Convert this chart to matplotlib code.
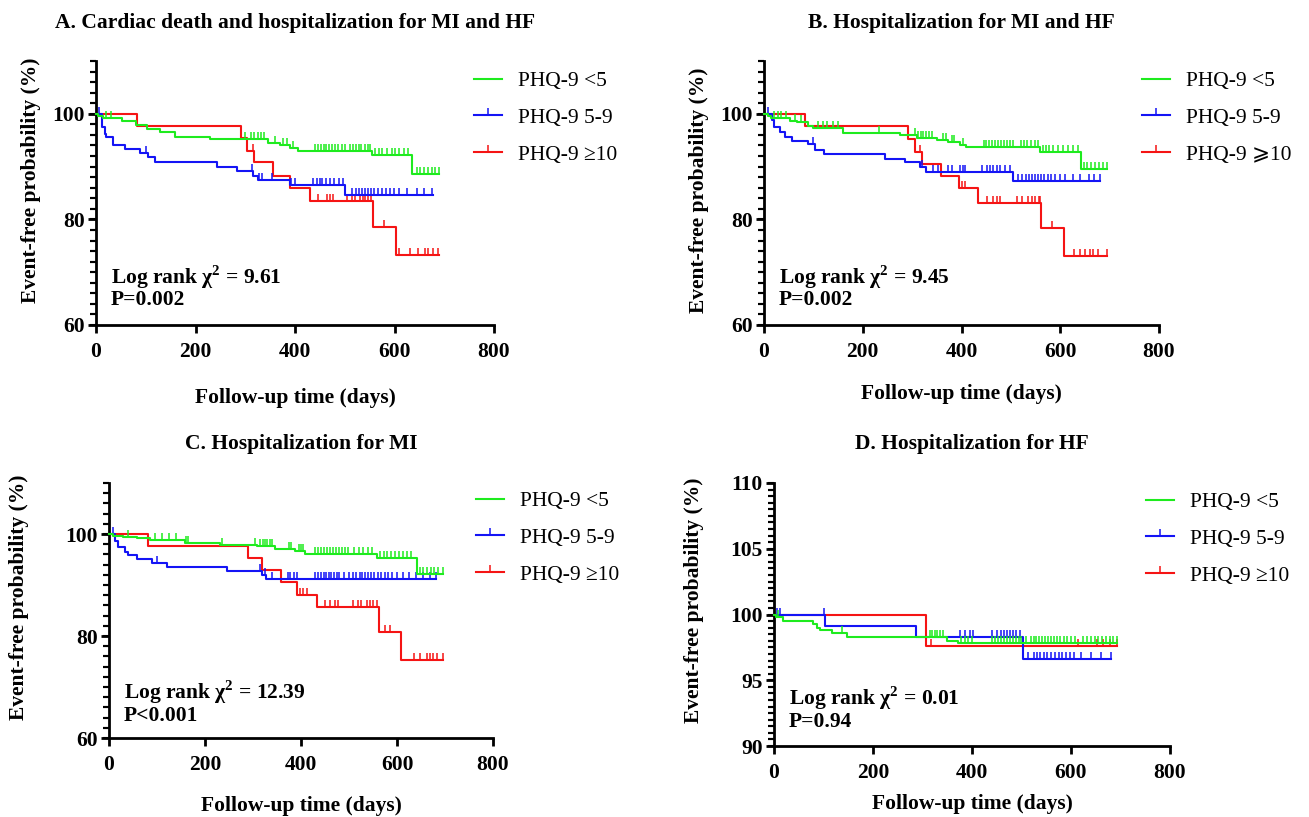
import matplotlib
matplotlib.use('Agg')
import matplotlib.pyplot as plt
import numpy as np
from matplotlib.lines import Line2D
from matplotlib.ticker import MultipleLocator, FixedLocator, NullLocator

plt.rcParams['font.family'] = ['Liberation Serif', 'DejaVu Serif', 'DejaVu Sans']
plt.rcParams['mathtext.fontset'] = 'custom'
plt.rcParams['mathtext.rm'] = 'Liberation Serif'
plt.rcParams['mathtext.bf'] = 'Liberation Serif:bold'

GREEN = '#1EEB1E'
BLUE = '#1414F5'
RED = '#F51414'

# ---- panel A: cardiac death + hospitalization for MI and HF ----
a_green_t = [5, 15, 52, 81, 103, 129, 159, 229, 346, 370, 390, 406, 554, 636]
a_green_s = [99.5, 99.2, 98.7, 97.9, 97.1, 96.6, 95.7, 95.3, 94.4, 94.0, 93.6, 93.0, 92.2, 88.6]
a_green_end = 690
a_green_c = [20, 30, 300, 312, 318, 325, 332, 338, 360, 376, 383, 395, 440, 446, 452, 458, 463,
             468, 474, 480, 487, 494, 500, 510, 517, 522, 528, 533, 540, 546, 551, 560, 568, 575,
             585, 595, 600, 610, 620, 628, 645, 652, 660, 668, 675, 682, 690]
a_blue_t = [13, 18, 21, 35, 58, 88, 105, 118, 243, 283, 316, 326, 390, 500]
a_blue_s = [97.5, 96.2, 95.7, 94.1, 93.4, 92.5, 91.9, 90.8, 90.0, 89.2, 88.3, 87.5, 86.5, 84.6]
a_blue_end = 678
a_blue_c = [7, 100, 313, 328, 333, 354, 392, 399, 437, 445, 450, 455, 462, 470, 478, 488, 497,
            514, 522, 528, 535, 540, 546, 552, 558, 566, 575, 583, 590, 598, 610, 625, 645, 660, 675]
a_red_t = [82, 291, 303, 318, 356, 390, 430, 557, 604]
a_red_s = [97.6, 95.4, 93.0, 90.8, 88.2, 85.9, 83.4, 78.5, 73.2]
a_red_end = 690
a_red_c = [316, 447, 464, 470, 476, 504, 514, 521, 531, 536, 541, 546, 552, 579, 610, 631, 648,
           661, 668, 678, 688]

# ---- panel B: hospitalization for MI and HF ----
b_green_t = [9, 15, 53, 66, 90, 100, 161, 275, 309, 350, 373, 397, 410, 559, 643]
b_green_s = [99.6, 99.2, 98.7, 98.4, 97.7, 97.3, 96.3, 96.0, 95.4, 95.1, 94.7, 94.1, 93.7, 92.8, 89.5]
b_green_end = 694
b_green_c = [20, 28, 35, 45, 62, 75, 110, 120, 128, 140, 150, 232, 305, 312, 318, 322, 328, 335,
             340, 362, 368, 380, 385, 403, 445, 450, 455, 462, 468, 473, 480, 486, 492, 498, 505,
             520, 526, 533, 540, 548, 555, 565, 572, 578, 585, 595, 605, 615, 625, 635, 648, 655,
             662, 670, 678, 686, 694]
b_blue_t = [16, 20, 32, 43, 56, 90, 103, 122, 245, 286, 316, 329, 505]
b_blue_s = [98.9, 97.5, 96.6, 95.7, 94.9, 94.2, 93.2, 92.3, 91.5, 90.8, 90.0, 88.9, 87.3]
b_blue_end = 680
b_blue_c = [9, 100, 320, 343, 353, 373, 380, 397, 404, 407, 441, 451, 458, 464, 471, 478, 488,
            498, 515, 522, 530, 536, 542, 548, 555, 561, 567, 575, 582, 590, 600, 610, 625, 640,
            658, 668, 680]
b_red_t = [83, 292, 306, 319, 358, 394, 433, 562, 608]
b_red_s = [97.6, 95.2, 92.8, 90.5, 88.2, 85.9, 83.2, 78.3, 73.1]
b_red_end = 694
b_red_c = [316, 400, 407, 451, 464, 471, 478, 512, 522, 535, 542, 549, 556, 559, 583, 627, 640,
           650, 660, 667, 677, 694]

# ---- panel C: hospitalization for MI ----
c_green_t = [9, 30, 58, 85, 158, 231, 308, 346, 388, 408, 558, 642]
c_green_s = [99.7, 99.5, 99.2, 98.8, 98.2, 97.9, 97.6, 97.1, 96.6, 96.1, 95.3, 92.2]
c_green_end = 695
c_green_c = [40, 95, 110, 125, 140, 160, 165, 235, 305, 315, 320, 325, 330, 335, 340, 375, 380,
             395, 400, 405, 430, 436, 442, 448, 454, 460, 467, 473, 480, 486, 492, 498, 510, 520,
             530, 540, 548, 565, 572, 580, 588, 596, 605, 612, 620, 630, 648, 655, 662, 670, 678,
             686, 695]
c_blue_t = [12, 19, 33, 40, 58, 89, 120, 245, 318, 328]
c_blue_s = [98.7, 97.5, 96.5, 95.8, 95.1, 94.4, 93.6, 92.8, 92.0, 91.1]
c_blue_end = 681
c_blue_c = [9, 99, 315, 325, 340, 372, 378, 385, 392, 430, 436, 442, 448, 452, 458, 463, 468,
            475, 480, 490, 500, 508, 515, 522, 528, 534, 540, 546, 553, 560, 567, 575, 582, 590,
            600, 612, 625, 640, 655, 668, 681]
c_red_t = [82, 290, 318, 358, 392, 434, 563, 608]
c_red_s = [97.6, 95.2, 92.9, 90.5, 88.1, 85.6, 80.8, 75.3]
c_red_end = 695
c_red_c = [318, 398, 405, 412, 450, 460, 471, 478, 509, 519, 526, 537, 544, 551, 558, 575, 585,
           635, 648, 662, 669, 676, 683, 695]

# ---- panel D: hospitalization for HF ----
d_green_t = [5, 19, 79, 86, 93, 117, 147, 349, 372]
d_green_s = [99.8, 99.5, 99.3, 99.0, 98.8, 98.6, 98.3, 98.0, 97.8]
d_green_end = 692
d_green_c = [8, 137, 315, 320, 325, 330, 335, 342, 378, 385, 392, 400, 440, 446, 452, 458, 464,
             470, 476, 482, 488, 494, 500, 510, 520, 525, 530, 536, 542, 548, 554, 560, 566, 572,
             578, 585, 592, 600, 608, 625, 632, 640, 648, 655, 662, 670, 678, 685, 692]
d_blue_t = [103, 287, 504]
d_blue_s = [99.16, 98.3, 96.6]
d_blue_end = 680
d_blue_c = [7, 12, 100, 376, 386, 396, 403, 440, 450, 458, 465, 470, 476, 482, 488, 497, 514,
            525, 532, 538, 545, 552, 560, 568, 575, 582, 590, 598, 606, 620, 640, 660, 680]
d_red_t = [308]
d_red_s = [97.64]
d_red_end = 692
d_red_c = [318, 615, 652, 665, 678, 692]

titles = ['A. Cardiac death and hospitalization for MI and HF',
          'B. Hospitalization for MI and HF',
          'C. Hospitalization for MI',
          'D. Hospitalization for HF']
chi2 = ['9.61', '9.45', '12.39', '0.01']
pvals = ['P=0.002', 'P=0.002', 'P<0.001', 'P=0.94']
labels_std = ['PHQ-9 <5', 'PHQ-9 5-9', 'PHQ-9 \u226510']
labels_b = ['PHQ-9 <5', 'PHQ-9 5-9', 'PHQ-9 \u2a7e10']
x_ticks = [0, 200, 400, 600, 800]
y_ticks = {'A': [60, 80, 100], 'B': [60, 80, 100], 'C': [60, 80, 100],
           'D': [90, 95, 100, 105, 110]}

groups = {
    'A': [(a_red_t, a_red_s, a_red_end, a_red_c, RED),
          (a_blue_t, a_blue_s, a_blue_end, a_blue_c, BLUE),
          (a_green_t, a_green_s, a_green_end, a_green_c, GREEN)],
    'B': [(b_red_t, b_red_s, b_red_end, b_red_c, RED),
          (b_blue_t, b_blue_s, b_blue_end, b_blue_c, BLUE),
          (b_green_t, b_green_s, b_green_end, b_green_c, GREEN)],
    'C': [(c_red_t, c_red_s, c_red_end, c_red_c, RED),
          (c_blue_t, c_blue_s, c_blue_end, c_blue_c, BLUE),
          (c_green_t, c_green_s, c_green_end, c_green_c, GREEN)],
    'D': [(d_red_t, d_red_s, d_red_end, d_red_c, RED),
          (d_blue_t, d_blue_s, d_blue_end, d_blue_c, BLUE),
          (d_green_t, d_green_s, d_green_end, d_green_c, GREEN)],
}

W, H = 1309, 817
# layout in pixels: left, right, top, bottom of each axes
boxes = {'A': (96, 494, 61, 325), 'B': (764, 1159, 61, 325),
         'C': (109, 493, 483, 738), 'D': (774, 1170, 483, 746)}
ylims = {'A': (60, 110, 2), 'B': (60, 110, 2), 'C': (60, 110, 2), 'D': (90, 110, 0.5)}
ylab_x = {'A': 31, 'B': 699, 'C': 19, 'D': 694}
ylab_y = {'A': 180, 'B': 190, 'C': 597, 'D': 600}
xlab_y = {'A': 398, 'B': 394, 'C': 806, 'D': 804}
title_y = {'A': 23, 'B': 23, 'C': 444, 'D': 444}
stat_y = {'A': (277, 300), 'B': (277, 300), 'C': (692, 716), 'D': (698, 722)}
leg_pos = {'A': (474, 79), 'B': (1142, 79), 'C': (476, 499), 'D': (1146, 500)}

FS = 15.5
fig = plt.figure(figsize=(W / 100, H / 100), dpi=100)


def km(ax, t, s, end, cens, color, z):
    tt = [0] + list(t) + [end]
    ss = [100] + list(s) + [s[-1]]
    ax.step(tt, ss, where='post', color=color, lw=1.5, zorder=z, clip_on=False)
    ct = np.array(cens)
    idx = np.searchsorted(tt, ct, side='right') - 1
    cs = np.array(ss)[idx]
    ax.plot(ct, cs, ls='none', marker=2, ms=5, mew=1.1, color=color, zorder=z, clip_on=False)


for i, key in enumerate(['A', 'B', 'C', 'D']):
    l, r, t, b = boxes[key]
    w, h = r - l, b - t
    ax = fig.add_axes([l / W, 1 - b / H, w / W, h / H])
    for z, (tt, ss, end, cens, col) in enumerate(groups[key]):
        km(ax, tt, ss, end, cens, col, 3 + z)

    y0, y1, minor = ylims[key]
    ax.set_xlim(0, 800)
    ax.set_ylim(y0, y1)
    ax.xaxis.set_major_locator(FixedLocator(x_ticks))
    ax.xaxis.set_minor_locator(NullLocator())
    ax.yaxis.set_major_locator(FixedLocator(y_ticks[key]))
    ax.yaxis.set_minor_locator(MultipleLocator(minor))
    for sp in ['top', 'right']:
        ax.spines[sp].set_visible(False)
    for sp in ['left', 'bottom']:
        ax.spines[sp].set_linewidth(2)
    ax.tick_params(axis='both', which='major', direction='out', length=6, width=2,
                   labelsize=FS)
    ax.tick_params(axis='x', which='major', pad=6)
    ax.tick_params(axis='y', which='major', pad=2)
    ax.tick_params(axis='y', which='minor', left=True, direction='out', length=4, width=1.5)
    for lab in ax.get_xticklabels() + ax.get_yticklabels():
        lab.set_fontweight('bold')

    # a second, label-free left axis carries the fine comb of short ticks
    sec = ax.secondary_yaxis('left')
    sec.yaxis.set_major_locator(MultipleLocator(minor))
    sec.tick_params(axis='y', which='major', direction='out', length=4, width=1.5,
                    labelleft=False)
    sec.yaxis.set_minor_locator(NullLocator())
    sec.spines['left'].set_visible(False)

    ax.set_xlabel('Follow-up time (days)', fontsize=FS, fontweight='bold')
    ax.xaxis.set_label_coords(0.5, (b - xlab_y[key]) / h)
    ax.xaxis.label.set_va('center')
    ax.set_ylabel('Event-free probability (%)', fontsize=FS, fontweight='bold')
    ax.yaxis.set_label_coords((ylab_x[key] - l) / w, (b - ylab_y[key]) / h)
    ax.yaxis.label.set_va('center')

    ax.text(0.5, (b - title_y[key]) / h, titles[i], transform=ax.transAxes, ha='center',
            va='center', fontsize=FS, fontweight='bold')

    s1, s2 = stat_y[key]
    ax.text(15 / w, (b - s1) / h, 'Log rank \u03c7$^{\\mathbf{2}}$ = ' + chi2[i],
            transform=ax.transAxes, ha='left', va='center', fontsize=FS, fontweight='bold')
    ax.text(15 / w, (b - s2) / h, pvals[i], transform=ax.transAxes, ha='left', va='center',
            fontsize=FS, fontweight='bold')

    labs = labels_b if key == 'B' else labels_std
    handles = [Line2D([], [], color=GREEN, lw=1.5),
               Line2D([], [], color=BLUE, lw=1.5, marker=2, ms=5, mew=1.1),
               Line2D([], [], color=RED, lw=1.5, marker=2, ms=5, mew=1.1)]
    lx, ly = leg_pos[key]
    ax.legend(handles, labs, loc='upper left', bbox_to_anchor=((lx - l) / w, (b - ly + 8) / h),
              frameon=False, fontsize=FS, handlelength=1.3, handletextpad=0.75,
              labelspacing=0.78, borderpad=0, borderaxespad=0, numpoints=1)

fig.savefig('out.png', dpi=100)
